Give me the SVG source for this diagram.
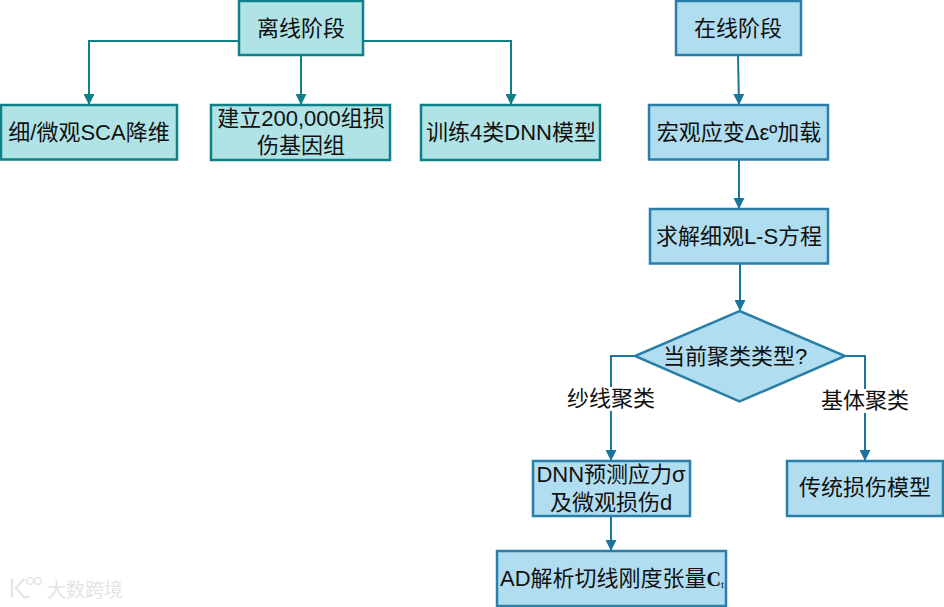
<svg xmlns="http://www.w3.org/2000/svg" width="944" height="607" viewBox="0 0 944 607">
<style>
text{font-family:"Liberation Sans","Noto Sans CJK SC",sans-serif;font-size:22px;fill:#111;text-anchor:middle}
.t{fill:#b0e3e6;stroke:#0e8088;stroke-width:2.5}
.b{fill:#b1ddf0;stroke:#2a7fa8;stroke-width:2.5}
.ct{fill:none;stroke:#0e8088;stroke-width:2}
.cb{fill:none;stroke:#1a749c;stroke-width:2}
.lab{fill:#fff;stroke:none}
</style>
<defs>
<marker id="at" markerUnits="userSpaceOnUse" markerWidth="12" markerHeight="11" refX="11" refY="5.5" orient="auto"><path d="M0 0L11 5.500L0 11Z" fill="#0e8088"/></marker>
<marker id="ab" markerUnits="userSpaceOnUse" markerWidth="12" markerHeight="11" refX="11" refY="5.500" orient="auto"><path d="M0 0L11 5.500L0 11Z" fill="#1a749c"/></marker>
</defs>
<g id="connectors">
<path class="ct" marker-end="url(#at)" d="M239 41H89V105"/>
<path class="ct" marker-end="url(#at)" d="M301 55V105"/>
<path class="ct" marker-end="url(#at)" d="M364 41H511V105"/>
<path class="cb" marker-end="url(#ab)" d="M738 55L739 105"/>
<path class="cb" marker-end="url(#ab)" d="M739 160V209"/>
<path class="cb" marker-end="url(#ab)" d="M740 264V311"/>
<path class="cb" marker-end="url(#ab)" d="M635 356H611V461"/>
<path class="cb" marker-end="url(#ab)" d="M845 356H865V461"/>
<path class="cb" marker-end="url(#ab)" d="M611 516V551"/>
</g>
<g id="n1"><rect class="t" x="239" y="1" width="124" height="54"/><text x="301" y="36">离线阶段</text></g>
<g id="n2"><rect class="t" x="1" y="105" width="176" height="54.500"/><text x="89" y="140">细/微观SCA降维</text></g>
<g id="n3"><rect class="t" x="211" y="105" width="179" height="55"/><text x="301" y="126">建立200,000组损</text><text x="301" y="153">伤基因组</text></g>
<g id="n4"><rect class="t" x="421" y="105" width="179" height="55"/><text x="511" y="140">训练4类DNN模型</text></g>
<g id="n5"><rect class="b" x="676" y="1" width="125" height="54"/><text x="738" y="36">在线阶段</text></g>
<g id="n6"><rect class="b" x="649" y="105" width="179" height="54.500"/><text x="739" y="140">宏观应变Δεº加载</text></g>
<g id="n7"><rect class="b" x="650" y="209" width="178" height="54.500"/><text x="739" y="244">求解细观L-S方程</text></g>
<g id="n8"><path class="b" d="M739.500 311L845 356L739.500 401.500L635 356Z"/><text x="735" y="364">当前聚类类型?</text></g>
<g id="n9"><rect class="b" x="533" y="461" width="157" height="55"/><text x="611" y="482">DNN预测应力σ</text><text x="611" y="510">及微观损伤d</text></g>
<g id="n10"><rect class="b" x="787" y="461" width="156" height="55"/><text x="865" y="495">传统损伤模型</text></g>
<g id="n11"><rect class="b" x="497" y="551" width="229" height="55"/><text x="612" y="586">AD解析切线刚度张量<tspan font-family="Liberation Serif" font-weight="bold" font-size="20">C</tspan><tspan font-family="Liberation Serif" font-size="11" dy="2">t</tspan></text></g>
<g id="labels">
<rect class="lab" x="565" y="387" width="92" height="24"/><text x="611" y="406">纱线聚类</text>
<rect class="lab" x="819" y="389" width="92" height="24"/><text x="865" y="408">基体聚类</text>
</g>
<g id="watermark"><text x="85" y="597" style="font-size:19px;fill:#e4e4e4">大数跨境</text>
<path d="M12 579V597M24 579L16 588L24 597H30" fill="none" stroke="#e6e6e6" stroke-width="2.500"/><circle cx="30" cy="581" r="3.500" fill="none" stroke="#e6e6e6" stroke-width="1.500"/><circle cx="38" cy="581" r="3.500" fill="none" stroke="#e6e6e6" stroke-width="1.500"/></g>
</svg>
